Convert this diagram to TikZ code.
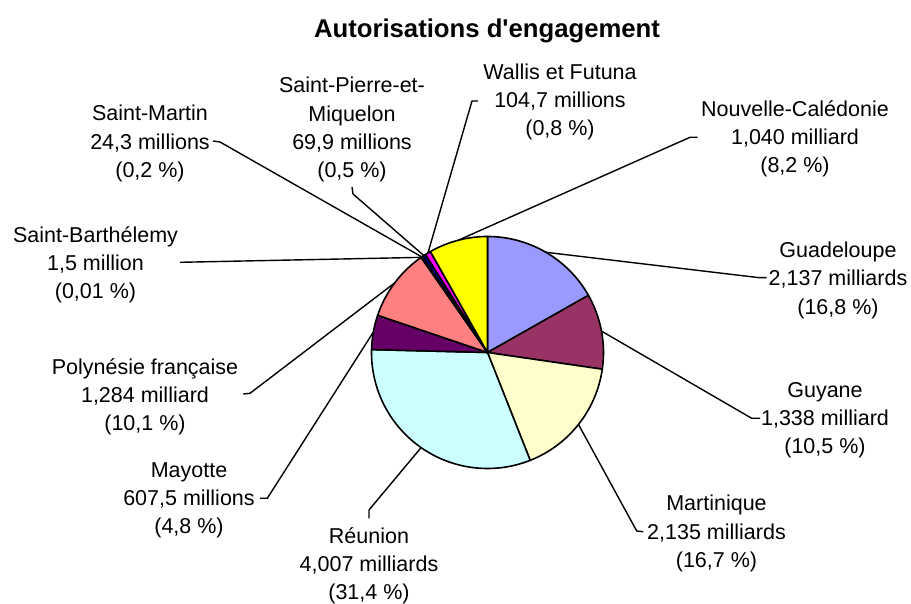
\documentclass[tikz,border=0pt]{standalone}
\usepackage{fontspec}
\setmainfont{Liberation Sans}[Ligatures=TeXOff]
\usetikzlibrary{calc}

\definecolor{guadcol}{HTML}{9999FF}
\definecolor{guyacol}{HTML}{993366}
\definecolor{martcol}{HTML}{FFFFCC}
\definecolor{reuncol}{HTML}{CCFFFF}
\definecolor{mayocol}{HTML}{660066}
\definecolor{polycol}{HTML}{FF8080}
\definecolor{barthcol}{HTML}{0066CC}
\definecolor{smartcol}{HTML}{CCCCFF}
\definecolor{spmcol}{HTML}{000080}
\definecolor{walliscol}{HTML}{FF00FF}
\definecolor{nccol}{HTML}{FFFF00}

\begin{document}
\begin{tikzpicture}[x=1pt,y=1pt,
    lbl/.style={align=center,font=\fontsize{21.5}{28.3}\selectfont},
    slice/.style={draw=black,line width=1.6pt,line join=round},
    leader/.style={line width=1.4pt,line join=round}]
  \useasboundingbox (0,0) rectangle (911,603);
  \coordinate (c) at (487.5,250.5);
  \node [font=\bfseries\fontsize{25.7}{30}\selectfont] (title) at (487,572) {Autorisations d'engagement};
  % slices, clockwise from the top
  \foreach \a/\b/\col in {90/29.52/guadcol, 29.52/-8.28/guyacol, -8.28/-68.40/martcol,
      -68.40/-181.44/reuncol, -181.44/-198.72/mayocol, -198.72/-235.08/polycol,
      -235.08/-235.116/barthcol, -235.116/-235.836/smartcol, -235.836/-237.636/spmcol,
      -237.636/-240.516/walliscol, -240.516/-270/nccol}
    \filldraw [slice, fill=\col] (c) -- ++(\a:116pt) arc (\a:\b:116pt) -- cycle;
  % labels
  \node [lbl] (guad) at (838,322.7) {Guadeloupe\\2,137 milliards\\(16,8 \%)};
  \node [lbl] (guya) at (825,182.7) {Guyane\\1,338 milliard\\(10,5 \%)};
  \node [lbl] (mart) at (716.5,69.3) {Martinique\\2,135 milliards\\(16,7 \%)};
  \node [lbl] (reun) at (369,37) {Réunion\\4,007 milliards\\(31,4 \%)};
  \node [lbl] (mayo) at (189,102.7) {Mayotte\\607,5 millions\\(4,8 \%)};
  \node [lbl] (poly) at (145,206) {Polynésie française\\1,284 milliard\\(10,1 \%)};
  \node [lbl] (barth) at (95.5,338.3) {Saint-Barthélemy\\1,5 million\\(0,01 \%)};
  \node [lbl] (smart) at (150,459.3) {Saint-Martin\\24,3 millions\\(0,2 \%)};
  \node [lbl] (spm) at (352,473.4) {Saint-Pierre-et-\\Miquelon\\69,9 millions\\(0,5 \%)};
  \node [lbl] (wallis) at (560,501) {Wallis et Futuna\\104,7 millions\\(0,8 \%)};
  \node [lbl] (nc) at (795,464.3) {Nouvelle-Calédonie\\1,040 milliard\\(8,2 \%)};
  % leader lines
  \foreach \n/\ang/\kx/\ky/\tx/\ty in {guad/59.76/759.3/325.3/766.7/325.3,
      guya/10.62/751.7/184.7/760/184.7, mart/-38.34/636.7/72/643.3/71.3,
      reun/-124.92/369/93/369/84.7, mayo/169.92/267.3/104.7/260/104.7,
      poly/143.1/250/209.7/243.3/209, barth/124.9/180/340.7/180/340.7,
      smart/124.5/220/461/213/462, spm/123.3/353/409/352/416,
      wallis/120.9/472/502/478/502, nc/104.7/690/465.7/697.7/465.7} {
    \coordinate (\n-p) at ($(c)+(\ang:116pt)$);
    \coordinate (\n-k) at (\kx,\ky);
    \coordinate (\n-t) at (\tx,\ty);
    \draw [leader] (\n-p) -- (\n-k) -- (\n-t);
  }
\end{tikzpicture}
\end{document}
